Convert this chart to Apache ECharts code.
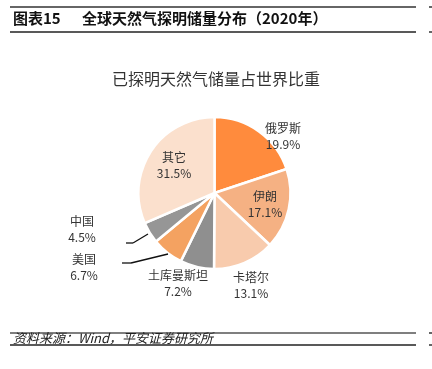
<!DOCTYPE html>
<html><head><meta charset="utf-8">
<script src="https://cdn.jsdelivr.net/npm/echarts@6/dist/echarts.min.js"></script>
<style>html,body{margin:0;padding:0;background:#fff}#c{width:432px;height:369px}</style>
</head><body><div id="c"></div>
<script>
const categories = ['俄罗斯', '伊朗', '卡塔尔', '土库曼斯坦', '美国', '中国', '其它'];
const shares = [19.9, 17.1, 13.1, 7.2, 6.7, 4.5, 31.5];
const colors = ['#FF8B3D', '#F5B183', '#F8CBAD', '#8F8F8F', '#F4A261', '#969696', '#FBE0CD'];
const labelPos = {
  '俄罗斯': [283, 136], '伊朗': [265, 204], '卡塔尔': [251, 285], '土库曼斯坦': [178, 283],
  '美国': [84, 267], '中国': [82, 229], '其它': [174, 165]
};
const leader = [
  [[122, 263], [131, 263], [168, 254]],
  [[126, 243], [133, 243], [148, 234]]
];
const chart = echarts.init(document.getElementById('c'), null, {renderer: 'canvas'});
const data = categories.map((n, i) => ({
  name: n, value: shares[i],
  itemStyle: {color: colors[i]}
}));
const font = '"Noto Sans CJK SC", "Noto Sans", sans-serif';
const graphics = [
  {type: 'line', shape: {x1: 10, y1: 7, x2: 416, y2: 7}, style: {stroke: '#333', lineWidth: 1.5}},
  {type: 'line', shape: {x1: 10, y1: 32, x2: 416, y2: 32}, style: {stroke: '#222', lineWidth: 1.5}},
  {type: 'line', shape: {x1: 429, y1: 7, x2: 432, y2: 7}, style: {stroke: '#333', lineWidth: 1.5}},
  {type: 'line', shape: {x1: 429, y1: 32, x2: 432, y2: 32}, style: {stroke: '#333', lineWidth: 1.5}},
  {type: 'text', left: 13, top: 11, style: {text: '图表15', font: 'bold 15px ' + font, fill: '#111'}},
  {type: 'text', left: 82, top: 11, style: {text: '全球天然气探明储量分布（2020年）', font: 'bold 15px ' + font, fill: '#111'}},
  {type: 'line', shape: {x1: 10, y1: 333, x2: 416, y2: 333}, style: {stroke: '#555', lineWidth: 1.5}},
  {type: 'line', shape: {x1: 10, y1: 345, x2: 416, y2: 345}, style: {stroke: '#222', lineWidth: 1.5}},
  {type: 'line', shape: {x1: 429, y1: 333, x2: 432, y2: 333}, style: {stroke: '#333', lineWidth: 1.5}},
  {type: 'line', shape: {x1: 429, y1: 345, x2: 432, y2: 345}, style: {stroke: '#333', lineWidth: 1.5}},
  {type: 'text', left: 13, top: 332, style: {text: '资料来源：Wind，平安证券研究所', font: 'italic 13px ' + font, fill: '#222'}}
];
leader.forEach(pts => {
  for (let k = 0; k < pts.length - 1; k++) {
    graphics.push({type: 'line', z: 100,
      shape: {x1: pts[k][0], y1: pts[k][1], x2: pts[k + 1][0], y2: pts[k + 1][1]},
      style: {stroke: '#111', lineWidth: 1.3}});
  }
});
chart.setOption({
  animation: false,
  title: {
    text: '已探明天然气储量占世界比重', left: 'center', top: 66,
    textStyle: {fontFamily: font, fontSize: 16, fontWeight: 'normal', color: '#333'}
  },
  series: [{
    type: 'pie', center: [214.5, 193], radius: 76, startAngle: 90, clockwise: true, z: 1,
    itemStyle: {borderColor: '#fff', borderWidth: 2.5},
    label: {
      show: true, position: 'outside', color: '#333', fontFamily: font, fontSize: 12, lineHeight: 16,
      formatter: p => p.name + '\n' + p.value.toFixed(1) + '%'
    },
    labelLine: {show: false},
    labelLayout: p => {
      const pos = labelPos[categories[p.dataIndex]];
      return {x: pos[0], y: pos[1], align: 'center', verticalAlign: 'middle'};
    },
    emphasis: {disabled: true},
    data: data
  }],
  graphic: {elements: graphics}
});
</script></body></html>
